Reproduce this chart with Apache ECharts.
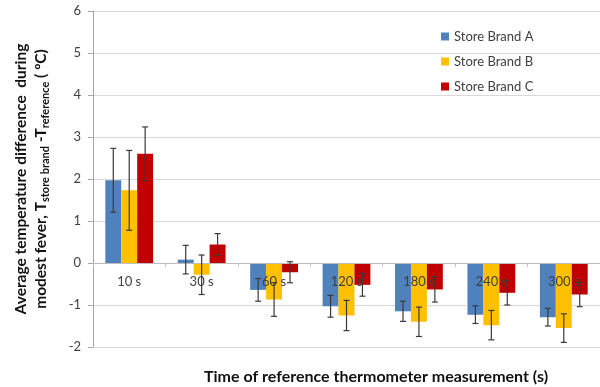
<!DOCTYPE html>
<html>
<head>
<meta charset="utf-8">
<script src="https://cdn.jsdelivr.net/npm/echarts@6/dist/echarts.min.js"></script>
<style>html,body{margin:0;padding:0;background:#fff}#c{width:600px;height:387px}</style>
</head>
<body>
<div id="c"></div>
<script>
var categories = ['10 s', '30 s', '60 s', '120 s', '180 s', '240 s', '300 s'];
var seriesNames = ['Store Brand A', 'Store Brand B', 'Store Brand C'];
var brandA = [1.97, 0.08, -0.64, -1.03, -1.15, -1.23, -1.29];
var errA   = [0.76, 0.34, 0.27, 0.26, 0.24, 0.21, 0.21];
var brandB = [1.73, -0.28, -0.87, -1.25, -1.40, -1.48, -1.55];
var errB   = [0.95, 0.47, 0.40, 0.36, 0.35, 0.35, 0.34];
var brandC = [2.60, 0.44, -0.22, -0.52, -0.63, -0.71, -0.75];
var errC   = [0.64, 0.26, 0.25, 0.27, 0.30, 0.29, 0.29];
var yTicks = [-2, -1, 0, 1, 2, 3, 4, 5, 6];

var colors = ['#4F81BD', '#FFC000', '#C00000'];
var values = [brandA, brandB, brandC];
var errs = [errA, errB, errC];
var BW = 0.22;
var GRID_H = 336;
var yMin = yTicks[0], yMax = yTicks[yTicks.length - 1];
var zeroOffset = -((0 - yMin) / (yMax - yMin)) * GRID_H;

function errSeries(si) {
  var data = values[si].map(function (v, i) { return [i, v, errs[si][i]]; });
  return {
    type: 'custom',
    z: 10,
    silent: true,
    encode: { x: 0, y: 1 },
    data: data,
    renderItem: function (params, api) {
      var x = api.value(0), v = api.value(1), e = api.value(2);
      var band = api.size([1, 0])[0];
      var off = (si - 1) * band * BW;
      var hi = api.coord([x, v + e]);
      var lo = api.coord([x, v - e]);
      var cx = api.coord([x, v])[0] + off;
      var w = 3;
      var st = { stroke: '#3a3a3a', lineWidth: 1.2 };
      return {
        type: 'group',
        children: [
          { type: 'line', shape: { x1: cx, y1: hi[1], x2: cx, y2: lo[1] }, style: st },
          { type: 'line', shape: { x1: cx - w, y1: hi[1], x2: cx + w, y2: hi[1] }, style: st },
          { type: 'line', shape: { x1: cx - w, y1: lo[1], x2: cx + w, y2: lo[1] }, style: st }
        ]
      };
    }
  };
}

var series = [];
for (var s = 0; s < 3; s++) {
  series.push({
    name: seriesNames[s],
    type: 'bar',
    data: values[s],
    barWidth: (BW * 100) + '%',
    barGap: '0%',
    itemStyle: { color: colors[s] }
  });
}
for (var s2 = 0; s2 < 3; s2++) series.push(errSeries(s2));

var chart = echarts.init(document.getElementById('c'), null, { renderer: 'canvas' });
chart.setOption({
  animation: false,
  backgroundColor: '#fff',
  textStyle: { fontFamily: 'Lato' },
  grid: { left: 93, top: 11, width: 511, height: GRID_H },
  legend: {
    data: seriesNames,
    orient: 'vertical',
    left: 436,
    top: 25,
    itemWidth: 8,
    itemHeight: 8,
    itemGap: 12,
    icon: 'rect',
    textStyle: { fontSize: 13, color: '#404040', fontFamily: 'Lato' }
  },
  title: {
    text: 'Time of reference thermometer measurement (s)',
    left: 371,
    top: 364,
    textAlign: 'center',
    textStyle: { fontSize: 16, fontWeight: 'bold', color: '#111', fontFamily: 'Lato' }
  },
  xAxis: {
    type: 'category',
    data: categories,
    z: 5,
    offset: zeroOffset,
    axisLine: { onZero: false, lineStyle: { color: '#bfbfbf', width: 1 } },
    axisTick: { show: true, length: 4, lineStyle: { color: '#bfbfbf' } },
    axisLabel: { margin: 12, fontSize: 13, color: '#404040', fontFamily: 'Lato', interval: 0 },
    splitLine: { show: false }
  },
  yAxis: {
    type: 'value',
    min: yMin,
    max: yMax,
    interval: 1,
    axisLine: { show: true, lineStyle: { color: '#a6a6a6' } },
    axisTick: { show: true, length: 5, lineStyle: { color: '#a6a6a6' } },
    axisLabel: { margin: 12, fontSize: 13, color: '#404040', fontFamily: 'Lato' },
    splitLine: { lineStyle: { color: '#d9d9d9' } },
    name: 'Average temperature difference  during\nmodest fever, T{sub|store brand} -T{sub|reference} ( ºC)',
    nameLocation: 'middle',
    nameRotate: 90,
    nameGap: 42,
    nameTextStyle: {
      fontSize: 15.5, fontWeight: 'bold', color: '#111', fontFamily: 'Lato', lineHeight: 20,
      rich: {
        sub: { fontSize: 11, fontWeight: 'bold', color: '#111', fontFamily: 'Lato', verticalAlign: 'bottom', lineHeight: 20, padding: [4, 0, 0, 0] }
      }
    }
  },
  series: series
});
</script>
</body>
</html>
